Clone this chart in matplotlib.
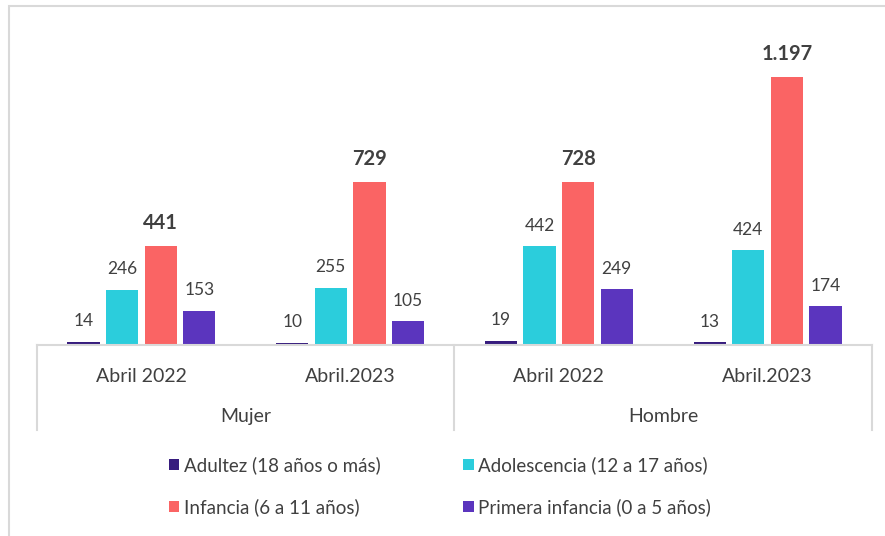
import matplotlib
matplotlib.use("Agg")
import matplotlib.pyplot as plt
from matplotlib.patches import Rectangle
from matplotlib.lines import Line2D
import numpy as np

plt.rcParams['font.family'] = ['Lato', 'DejaVu Sans']

periods = ["Abril 2022", "Abril.2023", "Abril 2022", "Abril.2023"]
groups = ["Mujer", "Hombre"]
series_names = ["Adultez (18 años o más)", "Adolescencia (12 a 17 años)",
                "Infancia (6 a 11 años)", "Primera infancia (0 a 5 años)"]
adultez = [14, 10, 19, 13]
adolescencia = [246, 255, 442, 424]
infancia = [441, 729, 728, 1197]
primera = [153, 105, 249, 174]
colors = ["#371C7E", "#2BCDDC", "#FA6464", "#5B35BE"]

def fmt(v):
    return f"{v:,}".replace(",", ".")

fig = plt.figure(figsize=(8.85, 5.36), dpi=100)
fig.patches.append(Rectangle((9/885, -0.1), 2, 1.1 - 6/536, transform=fig.transFigure,
                             fill=False, edgecolor="#d9d9d9", linewidth=1.5, zorder=0))

ax = fig.add_axes([37/885, (536-345)/536, (872-37)/885, 291/536])
x = np.arange(len(periods))
step = 0.185
width = 0.155
series = [adultez, adolescencia, infancia, primera]
for i, (vals, col, name) in enumerate(zip(series, colors, series_names)):
    pos = x + (i - 1.5) * step
    bars = ax.bar(pos, vals, width=width, color=col, label=name, zorder=2)
    for b, v in zip(bars, vals):
        if i == 2:
            ax.annotate(fmt(v), (b.get_x() + b.get_width()/2, v), xytext=(0, 9.5),
                        textcoords="offset points", ha="center", va="bottom",
                        fontsize=14.5, fontweight="bold", color="#404040")
        else:
            ax.annotate(fmt(v), (b.get_x() + b.get_width()/2, v), xytext=(0, 9),
                        textcoords="offset points", ha="center", va="bottom",
                        fontsize=12.5, color="#404040")

ax.set_xlim(-0.5, len(periods) - 0.5)
ax.set_ylim(0, 1300)
ax.set_yticks([])
ax.set_xticks([])
for s in ["top", "right", "left"]:
    ax.spines[s].set_visible(False)
ax.spines["bottom"].set_color("#d9d9d9")
ax.spines["bottom"].set_linewidth(1.5)

# category labels
for xi, p in zip(x, periods):
    ax.text(xi, -0.108, p, transform=ax.get_xaxis_transform(), ha="center", va="center",
            fontsize=14, color="#404040")
for gi, g in enumerate(groups):
    ax.text(2*gi + 0.5, -0.245, g, transform=ax.get_xaxis_transform(), ha="center", va="center",
            fontsize=14, color="#404040")
for xs in [-0.5, 1.5, 3.5]:
    ax.add_line(Line2D([xs, xs], [0, -0.292], transform=ax.get_xaxis_transform(),
                       color="#d9d9d9", linewidth=1.5, clip_on=False))

handles, labels = ax.get_legend_handles_labels()
order = [0, 2, 1, 3]
leg = fig.legend([handles[k] for k in order], [labels[k] for k in order], ncol=2,
                 loc="center", bbox_to_anchor=(440/885, (536-486)/536),
                 frameon=False, fontsize=13.5, handlelength=0.55, handleheight=0.55,
                 handletextpad=0.25, columnspacing=4.4, labelspacing=1.3,
                 labelcolor="#404040")

fig.savefig("out.png", dpi=100, facecolor="white")
